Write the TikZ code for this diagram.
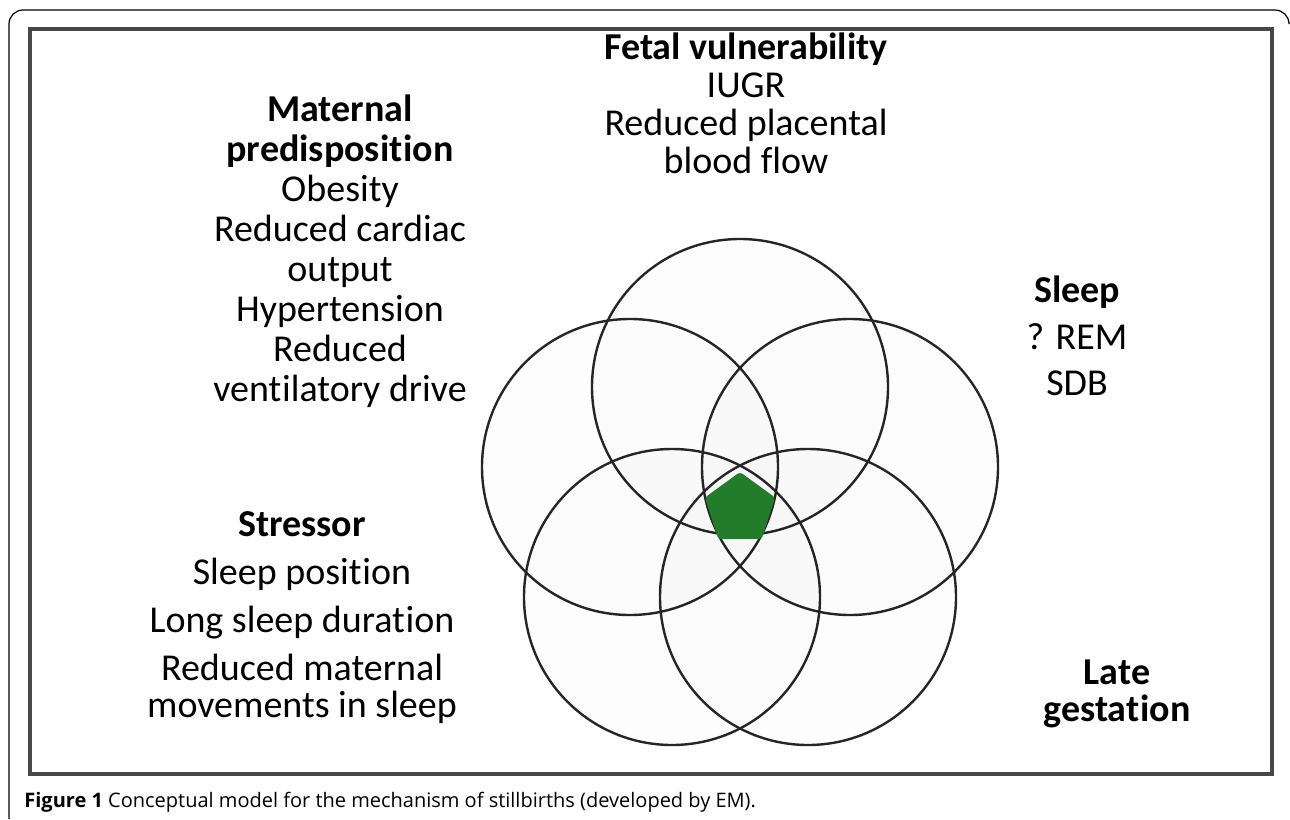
\documentclass[tikz,border=0pt]{standalone}
\usepackage{fontspec}
\setmainfont{Carlito}[Ligatures={NoCommon,NoContextual,NoRare}, Contextuals=NoAlternate]
\newfontfamily\capfont{Open Sans}
\usetikzlibrary{shapes.geometric}
\definecolor{coregreen}{RGB}{34,124,42}
\newcommand\tisep{t\kern0.4pt i}

\begin{document}
\begin{tikzpicture}[x=0.5pt, y=-0.5pt,
        ring/.style={draw=black!85, line width=1.2pt, fill=black, fill opacity=0.008},
        lbl/.style={align=center, inner sep=0pt, font=\fontsize{19}{20}\selectfont}]
    \useasboundingbox (0,0) rectangle (1290,819);
    % page frame and figure box
    \draw[line width=0.6pt, rounded corners=7pt] (9,819) -- (9,10) -- (1289,10) -- (1289,22);
    \draw[line width=1.6pt, draw=black!72] (30,29) rectangle (1272,774);

    % five overlapping circles
    \foreach \cx/\cy in {740/387, 630/467, 850/467, 672/597, 808/597}
        \draw[ring] (\cx,\cy) circle[radius=148];
    \node[regular polygon, regular polygon sides=5, fill=coregreen, inner sep=0pt,
        minimum size=37pt, rounded corners=1.5pt] (core) at (740,509) {};

    % labels
    \node[lbl] (maternal) at (340,251) {\textbf{Maternal}\\\textbf{predisposi\tisep on}\\Obesity\\
        Reduced cardiac\\output\\Hypertension\\Reduced\\ven\tisep latory drive};
    \node[lbl, font=\fontsize{19}{19}\selectfont] (fetal) at (746,103)
        {\textbf{Fetal vulnerability}\\IUGR\\Reduced placental\\blood flow};
    \node[lbl, font=\fontsize{19}{23.3}\selectfont] (sleep) at (1077,336)
        {\textbf{Sleep}\\? REM\\SDB};
    \node[lbl, font=\fontsize{19}{24}\selectfont] (stressor) at (302,618)
        {\textbf{Stressor}\\Sleep posi\tisep on\\Long sleep dura\tisep on\\Reduced maternal\\[-5.5pt]movements in sleep};
    \node[lbl, font=\fontsize{19}{18.5}\selectfont] (late) at (1117,694)
        {\textbf{Late}\\\textbf{gesta\tisep on}};

    % caption
    \node[anchor=base west, inner sep=0pt, font=\capfont\fontsize{10}{12}\selectfont] (caption) at (24,807)
        {\textbf{Figure 1} Conceptual model for the mechanism of stillbirths (developed by EM).};
\end{tikzpicture}
\end{document}
